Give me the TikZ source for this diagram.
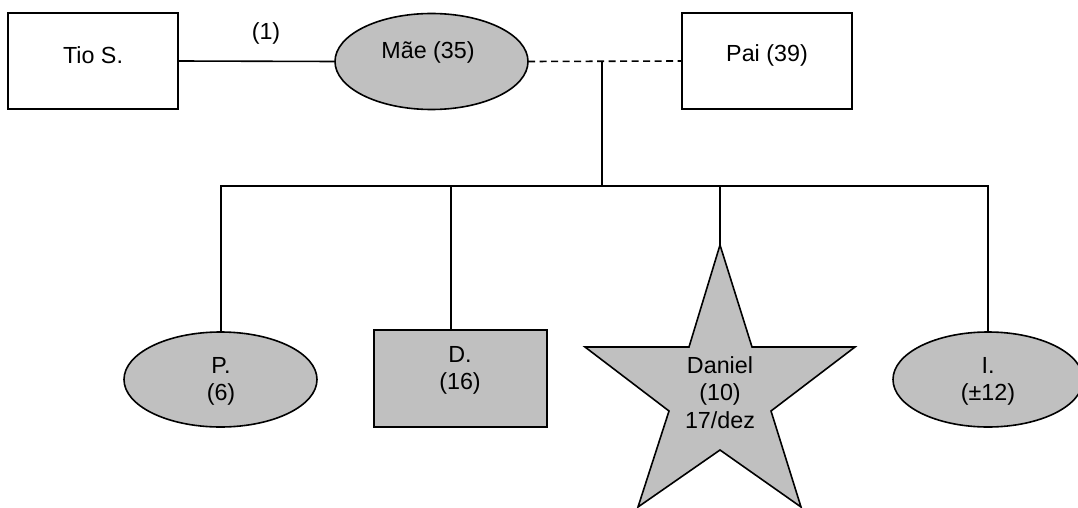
\documentclass[tikz,border=0pt]{standalone}
\usepackage{fontspec}
\setmainfont{Liberation Sans}
\usetikzlibrary{shapes.geometric}
\definecolor{shade}{HTML}{C0C0C0}
\tikzset{
  person/.style={draw=black, line width=1.6pt, inner sep=0pt, outer sep=0pt},
  malebox/.style={person, rectangle, minimum width=170pt, minimum height=96pt},
  femaleoval/.style={person, ellipse, fill=shade, minimum width=193pt, minimum height=96pt},
  childbox/.style={person, rectangle, fill=shade, minimum width=173pt, minimum height=97pt},
  starline/.style={draw=black, line width=1.6pt, fill=shade, line join=miter},
  caption/.style={inner sep=0pt, align=center, font=\fontsize{23.3pt}{27.5pt}\selectfont},
  tie/.style={line width=1.6pt},
  loosetie/.style={tie, dash pattern=on 7pt off 4.5pt}
}
\begin{document}
\begin{tikzpicture}[x=1pt, y=-1pt]
\useasboundingbox (0,0) rectangle (1078,508);

% parents' generation
\node[malebox]    (tio) at (93,61)     {};
\node[femaleoval] (mae) at (431.5,61.5) {};
\node[malebox]    (pai) at (767,61)    {};

% children
\node[femaleoval, minimum height=95pt] (p) at (220.5,379.5) {};
\node[childbox]  (d) at (460.5,378.5) {};
\node[femaleoval, minimum width=190pt, minimum height=95pt] (i) at (988,379.5) {};

% the five-pointed star for Daniel, top point named
\coordinate (daniel) at (720,245);
\draw[starline] (daniel) -- (752,347) -- (855,347) -- (771,411) -- (801,507)
  -- (720,450) -- (638,507) -- (669,411) -- (585,347) -- (689,347) -- cycle;

% names
\node[caption] at (93,55)    {Tio S.};
\node[caption] at (266,33)   {(1)};
\node[caption] at (428,52)   {Mãe (35)};
\node[caption] at (767,55)   {Pai (39)};
\node[caption] at (221,381.5)  {P.\\(6)};
\node[caption] at (460,370.5)  {D.\\(16)};
\node[caption] at (720,392.5)  {Daniel\\(10)\\17/dez};
\node[caption] at (988,381.5)  {I.\\(±12)};

% unions
\draw[tie] (tio.east) -- (mae.west);
\draw[loosetie] (mae.east) -- (pai.west);

% descent line and sibling bar
\coordinate (union) at (602,61);
\coordinate (barL) at (220,185.7);
\coordinate (barR) at (989,185.7);
\draw[tie] (union) -- (union |- barL);
\draw[tie] (barL) -- (barR);

% drops to each child
\coordinate (jp) at (221,185.7);
\coordinate (jd) at (451,185.7);
\coordinate (jdaniel) at (720,185.7);
\coordinate (ji) at (988,185.7);
\draw[tie] (jp) -- (jp |- p.north);
\draw[tie] (jd) -- (jd |- d.north);
\draw[tie] (jdaniel) -- (daniel);
\draw[tie] (ji) -- (ji |- i.north);
\end{tikzpicture}
\end{document}
